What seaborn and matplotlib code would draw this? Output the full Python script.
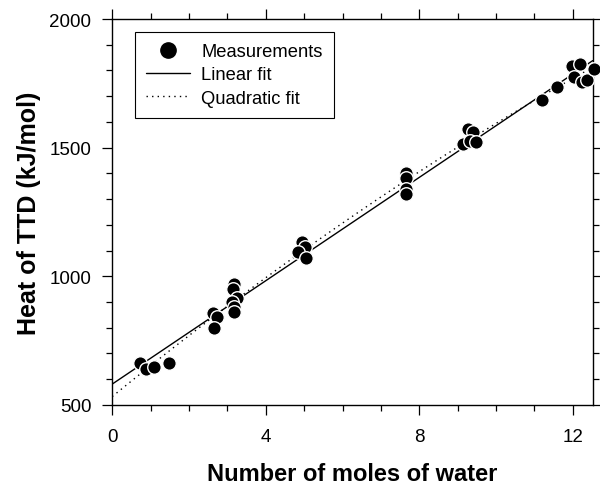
import matplotlib.pyplot as plt
from matplotlib.ticker import MultipleLocator
from matplotlib.lines import Line2D
import pandas as pd
import seaborn as sns

water = [0.73, 0.89, 1.08, 1.48, 2.62, 2.73, 2.66, 3.18, 3.14, 3.25, 3.12, 3.18, 3.18,
         4.94, 5.01, 4.85, 5.05, 7.66, 7.66, 7.66, 7.66, 9.15, 9.28, 9.41, 9.32, 9.48,
         11.19, 11.58, 11.97, 12.19, 12.03, 12.23, 12.36, 12.55]
heat = [663, 640, 649, 662, 856, 841, 799, 970, 951, 915, 899, 882, 860,
        1132, 1115, 1093, 1070, 1402, 1382, 1339, 1320, 1514, 1573, 1560, 1527, 1523,
        1685, 1737, 1816, 1825, 1773, 1754, 1763, 1806]

df = pd.DataFrame({'water': water, 'heat': heat})

sns.set_style('ticks')
plt.rcParams['font.family'] = ['Liberation Sans', 'DejaVu Sans']
plt.rcParams['text.color'] = 'black'
plt.rcParams['axes.labelcolor'] = 'black'
plt.rcParams['xtick.color'] = 'black'
plt.rcParams['ytick.color'] = 'black'

fig = plt.figure(figsize=(6, 4.89), dpi=100)
ax = fig.add_axes([0.187, 0.170, 0.801, 0.789])
ax.set_xlim(0, 12.52)
ax.set_ylim(500, 2000)

sns.regplot(data=df, x='water', y='heat', order=1, ci=None, scatter=False, truncate=False,
            line_kws={'color': 'black', 'lw': 1.0}, ax=ax)
sns.regplot(data=df, x='water', y='heat', order=2, ci=None, scatter=False, truncate=False,
            line_kws={'color': 'black', 'lw': 1.0, 'ls': (0, (1, 3))}, ax=ax)
sns.scatterplot(data=df, x='water', y='heat', color='black', edgecolor='white',
                linewidth=1.0, s=95, ax=ax, clip_on=False, zorder=3)

ax.set_xlim(0, 12.52)
ax.set_ylim(500, 2000)
ax.xaxis.set_major_locator(MultipleLocator(4))
ax.xaxis.set_minor_locator(MultipleLocator(1))
ax.yaxis.set_major_locator(MultipleLocator(500))
ax.yaxis.set_minor_locator(MultipleLocator(100))
ax.tick_params(which='both', direction='out', top=True, right=True, width=0.9,
               labelsize=13.5)
ax.tick_params(which='major', length=7)
ax.tick_params(axis='x', which='major', pad=10)
ax.tick_params(axis='y', which='major', pad=8)
ax.tick_params(which='minor', length=4)
for sp in ax.spines.values():
    sp.set_linewidth(1.0)
    sp.set_color('black')

ax.set_xlabel('Number of moles of water', fontsize=17, fontweight='bold', labelpad=12)
ax.set_ylabel('Heat of TTD (kJ/mol)', fontsize=18, fontweight='bold', labelpad=6)

handles = [
    Line2D([], [], marker='o', color='black', ls='none', markersize=11),
    Line2D([], [], color='black', lw=1.0),
    Line2D([], [], color='black', lw=1.0, ls=(0, (1, 3))),
]
leg = ax.legend(handles, ['Measurements', 'Linear fit', 'Quadratic fit'],
                loc='upper left', bbox_to_anchor=(0.029, 0.99), fontsize=13.2,
                frameon=True, fancybox=False, framealpha=1, edgecolor='black',
                handlelength=2.4, handletextpad=0.6, borderpad=0.6,
                labelspacing=0.35)
leg.get_frame().set_linewidth(0.8)

fig.savefig('out.png', dpi=100)
